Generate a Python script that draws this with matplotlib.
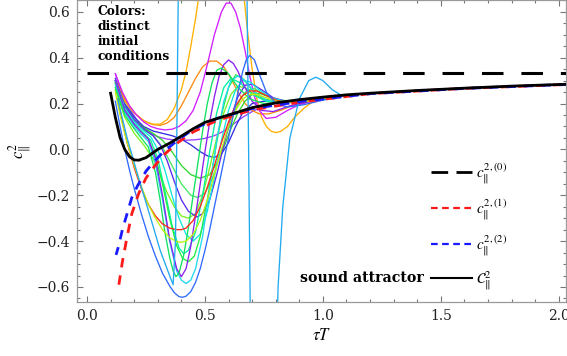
import numpy as np
import matplotlib
matplotlib.use("Agg")
import matplotlib.pyplot as plt
from matplotlib.lines import Line2D

plt.rcParams['mathtext.fontset'] = 'stix'
plt.rcParams['font.family'] = ['DejaVu Serif']

# ---------------- data ----------------
# sound attractor
att_x = [0.10, 0.12, 0.14, 0.16, 0.18, 0.20, 0.22, 0.25, 0.30, 0.35, 0.40, 0.45, 0.50,
         0.60, 0.70, 0.80, 0.90, 1.00, 1.10, 1.20, 1.40, 1.60, 1.80, 2.00, 2.03]
att_y = [0.245, 0.14, 0.052, 0.0, -0.032, -0.046, -0.047, -0.036, 0.0, 0.027, 0.058, 0.09, 0.118,
         0.15, 0.182, 0.203, 0.217, 0.228, 0.238, 0.245, 0.257, 0.267, 0.276, 0.283, 0.284]

# zeroth order (conformal value)
c0_x = [0.0, 2.03]
c0_y = [1/3, 1/3]

# first order hydro
c1_x = [0.135, 0.15, 0.17, 0.19, 0.22, 0.25, 0.29, 0.33, 0.38, 0.45, 0.55, 0.70, 0.90, 1.20, 1.60, 2.03]
c1_y = [-0.59, -0.49, -0.38, -0.28, -0.19, -0.125, -0.068, -0.02, 0.026, 0.076, 0.126, 0.172, 0.206, 0.243, 0.266, 0.283]

# second order hydro
c2_x = [0.123, 0.133, 0.15, 0.168, 0.19, 0.215, 0.25, 0.28, 0.32, 0.38, 0.45, 0.55, 0.70, 0.90, 1.20, 1.60, 2.03]
c2_y = [-0.46, -0.425, -0.35, -0.287, -0.21, -0.157, -0.095, -0.058, -0.015, 0.037, 0.088, 0.135, 0.178, 0.208, 0.243, 0.266, 0.283]

# individual solutions (distinct initial conditions)
sol_red_x = [0.13, 0.15, 0.17, 0.20, 0.23, 0.26, 0.29, 0.32, 0.35, 0.38, 0.40, 0.42, 0.45, 0.48, 0.51, 0.54,
             0.57, 0.60, 0.63, 0.66, 0.69, 0.72, 0.76, 0.80, 0.85, 0.92, 1.00, 1.10]
sol_red_y = [0.22, 0.12, 0.03, -0.08, -0.17, -0.24, -0.29, -0.325, -0.343, -0.35, -0.35, -0.343, -0.31, -0.25,
             -0.165, -0.07, 0.03, 0.12, 0.19, 0.235, 0.255, 0.255, 0.235, 0.215, 0.205, 0.207, 0.222, 0.235]

sol_yg_x = [0.12, 0.14, 0.17, 0.20, 0.23, 0.26, 0.29, 0.32, 0.35, 0.38, 0.40, 0.42, 0.45, 0.48, 0.51, 0.54,
            0.57, 0.60, 0.63, 0.66, 0.69, 0.72, 0.76, 0.80, 0.86, 0.95, 1.05, 1.15]
sol_yg_y = [0.25, 0.15, 0.03, -0.07, -0.16, -0.24, -0.30, -0.35, -0.385, -0.402, -0.405, -0.40, -0.37, -0.31,
            -0.22, -0.11, 0.0, 0.10, 0.17, 0.22, 0.24, 0.24, 0.225, 0.21, 0.205, 0.21, 0.228, 0.24]

sol_blue_x = [0.12, 0.14, 0.16, 0.18, 0.20, 0.23, 0.26, 0.29, 0.32, 0.35, 0.37, 0.39, 0.405, 0.42, 0.44, 0.46,
              0.48, 0.50, 0.52, 0.54, 0.56, 0.58, 0.60, 0.62, 0.64, 0.66, 0.675, 0.69, 0.71, 0.73, 0.76,
              0.80, 0.85, 0.92, 1.00, 1.10]
sol_blue_y = [0.21, 0.10, 0.0, -0.09, -0.17, -0.28, -0.38, -0.465, -0.54, -0.595, -0.625, -0.642, -0.645, -0.64,
              -0.62, -0.58, -0.52, -0.44, -0.35, -0.25, -0.15, -0.05, 0.05, 0.15, 0.25, 0.34, 0.39, 0.41, 0.39,
              0.33, 0.25, 0.20, 0.185, 0.195, 0.215, 0.235]

sol_gold_x = [0.13, 0.16, 0.19, 0.22, 0.25, 0.28, 0.31, 0.34, 0.37, 0.40, 0.42, 0.44, 0.46, 0.48, 0.50, 0.55,
              0.60, 0.64, 0.66, 0.68, 0.70, 0.72, 0.74, 0.76, 0.78, 0.80, 0.82, 0.85, 0.88, 0.92, 0.96, 1.03]
sol_gold_y = [0.27, 0.21, 0.17, 0.14, 0.12, 0.11, 0.11, 0.13, 0.18, 0.26, 0.34, 0.45, 0.57, 0.71, 0.90, 1.20,
              1.20, 0.90, 0.72, 0.52, 0.35, 0.22, 0.14, 0.10, 0.08, 0.073, 0.078, 0.10, 0.14, 0.18, 0.21, 0.225]

sol_orange_x = [0.13, 0.16, 0.20, 0.24, 0.28, 0.31, 0.34, 0.37, 0.40, 0.43, 0.46, 0.49, 0.52, 0.55, 0.58,
                0.61, 0.64, 0.67, 0.70, 0.73, 0.77, 0.82, 0.88, 0.95, 1.05]
sol_orange_y = [0.29, 0.22, 0.16, 0.125, 0.108, 0.105, 0.115, 0.14, 0.19, 0.25, 0.31, 0.36, 0.385, 0.385, 0.36,
                0.31, 0.25, 0.20, 0.17, 0.155, 0.155, 0.17, 0.195, 0.212, 0.228]

sol_magenta_x = [0.12, 0.15, 0.18, 0.21, 0.24, 0.27, 0.30, 0.33, 0.36, 0.39, 0.42, 0.45, 0.48, 0.51, 0.54,
                 0.57, 0.59, 0.61, 0.63, 0.65, 0.67, 0.69, 0.71, 0.73, 0.76, 0.80, 0.85, 0.90, 0.97, 1.05]
sol_magenta_y = [0.33, 0.25, 0.19, 0.15, 0.12, 0.10, 0.09, 0.085, 0.088, 0.10, 0.125, 0.17, 0.25, 0.37, 0.50,
                 0.60, 0.638, 0.638, 0.60, 0.53, 0.43, 0.32, 0.23, 0.17, 0.135, 0.14, 0.17, 0.195, 0.215, 0.228]

sol_dblue_x = [0.12, 0.16, 0.20, 0.24, 0.28, 0.32, 0.36, 0.40, 0.44, 0.48, 0.51, 0.54, 0.57, 0.60, 0.63,
               0.66, 0.70, 0.75, 0.82, 0.90, 1.00, 1.08]
sol_dblue_y = [0.30, 0.20, 0.14, 0.10, 0.08, 0.07, 0.06, 0.045, 0.02, -0.01, -0.028, -0.035, -0.02, 0.03, 0.10,
               0.16, 0.20, 0.21, 0.207, 0.21, 0.225, 0.235]

sol_violet_x = [0.12, 0.15, 0.18, 0.21, 0.24, 0.27, 0.30, 0.34, 0.38, 0.42, 0.46, 0.50, 0.54, 0.58, 0.62,
                0.66, 0.70, 0.75, 0.80, 0.88, 0.96, 1.05]
sol_violet_y = [0.33, 0.24, 0.18, 0.13, 0.095, 0.07, 0.055, 0.045, 0.04, 0.04, 0.042, 0.048, 0.06, 0.08, 0.11,
                0.14, 0.165, 0.19, 0.20, 0.205, 0.215, 0.228]

sol_green1_x = [0.12, 0.16, 0.20, 0.24, 0.28, 0.32, 0.36, 0.40, 0.44, 0.48, 0.52, 0.55, 0.58, 0.61, 0.64,
                0.67, 0.70, 0.73, 0.77, 0.82, 0.90, 1.00]
sol_green1_y = [0.30, 0.19, 0.13, 0.095, 0.07, 0.04, -0.01, -0.07, -0.11, -0.126, -0.11, -0.06, 0.01, 0.09, 0.16,
                0.21, 0.24, 0.245, 0.23, 0.215, 0.207, 0.222]

sol_green2_x = [0.12, 0.16, 0.20, 0.24, 0.28, 0.32, 0.36, 0.40, 0.44, 0.47, 0.50, 0.53, 0.56, 0.59, 0.62,
                0.65, 0.68, 0.71, 0.75, 0.80, 0.88, 0.98]
sol_green2_y = [0.29, 0.18, 0.12, 0.085, 0.06, 0.01, -0.07, -0.15, -0.20, -0.21, -0.19, -0.13, -0.04, 0.06, 0.15,
                0.22, 0.26, 0.265, 0.24, 0.215, 0.205, 0.22]

sol_indigo_x = [0.12, 0.16, 0.20, 0.24, 0.28, 0.31, 0.34, 0.37, 0.40, 0.43, 0.466, 0.49, 0.52, 0.55, 0.58,
                0.61, 0.64, 0.67, 0.70, 0.74, 0.79, 0.86, 0.95, 1.03]
sol_indigo_y = [0.31, 0.19, 0.13, 0.09, 0.06, 0.02, -0.05, -0.14, -0.22, -0.27, -0.295, -0.28, -0.22, -0.11, 0.02,
                0.14, 0.23, 0.28, 0.285, 0.26, 0.225, 0.205, 0.212, 0.225]

sol_cyan1_x = [0.12, 0.16, 0.20, 0.24, 0.27, 0.30, 0.33, 0.36, 0.39, 0.42, 0.45, 0.48, 0.51, 0.54, 0.57,
               0.60, 0.63, 0.66, 0.69, 0.73, 0.78, 0.85, 0.95, 1.03]
sol_cyan1_y = [0.30, 0.18, 0.12, 0.08, 0.055, 0.0, -0.09, -0.20, -0.30, -0.37, -0.40, -0.37, -0.27, -0.12, 0.04,
               0.17, 0.26, 0.30, 0.295, 0.26, 0.225, 0.207, 0.212, 0.225]

sol_green3_x = [0.12, 0.16, 0.20, 0.23, 0.26, 0.29, 0.32, 0.35, 0.38, 0.405, 0.43, 0.455, 0.48, 0.51, 0.54,
                0.57, 0.60, 0.63, 0.66, 0.70, 0.75, 0.82, 0.92, 1.00]
sol_green3_y = [0.29, 0.17, 0.11, 0.075, 0.045, -0.03, -0.15, -0.30, -0.42, -0.475, -0.49, -0.465, -0.38, -0.22,
                -0.03, 0.15, 0.27, 0.325, 0.31, 0.26, 0.22, 0.207, 0.21, 0.222]

sol_cyan2_x = [0.12, 0.16, 0.20, 0.23, 0.26, 0.29, 0.32, 0.35, 0.38, 0.40, 0.42, 0.44, 0.46, 0.49, 0.52,
               0.55, 0.58, 0.61, 0.64, 0.67, 0.71, 0.76, 0.83, 0.92, 1.00]
sol_cyan2_y = [0.28, 0.16, 0.10, 0.065, 0.035, -0.06, -0.22, -0.40, -0.53, -0.57, -0.585, -0.57, -0.52, -0.38,
               -0.17, 0.04, 0.21, 0.30, 0.32, 0.30, 0.25, 0.215, 0.205, 0.21, 0.222]

sol_purple_x = [0.12, 0.16, 0.20, 0.23, 0.26, 0.29, 0.32, 0.35, 0.38, 0.40, 0.42, 0.44, 0.46, 0.48, 0.50,
                0.52, 0.54, 0.56, 0.58, 0.60, 0.62, 0.64, 0.67, 0.70, 0.74, 0.79, 0.86, 0.95, 1.02]
sol_purple_y = [0.30, 0.17, 0.11, 0.075, 0.045, -0.04, -0.20, -0.39, -0.52, -0.555, -0.52, -0.42, -0.29, -0.15,
                -0.01, 0.12, 0.23, 0.32, 0.37, 0.39, 0.375, 0.34, 0.27, 0.21, 0.17, 0.165, 0.19, 0.21, 0.222]

sol_green4_x = [0.12, 0.16, 0.20, 0.23, 0.26, 0.29, 0.31, 0.33, 0.35, 0.365, 0.377, 0.39, 0.41, 0.43, 0.45,
                0.47, 0.49, 0.51, 0.53, 0.55, 0.57, 0.60, 0.64, 0.69, 0.75, 0.83, 0.92, 1.00]
sol_green4_y = [0.27, 0.15, 0.09, 0.05, 0.01, -0.10, -0.22, -0.36, -0.47, -0.53, -0.555, -0.54, -0.46, -0.34,
                -0.20, -0.06, 0.08, 0.20, 0.29, 0.345, 0.355, 0.33, 0.27, 0.22, 0.20, 0.205, 0.21, 0.222]

sol_lime_x = [0.12, 0.16, 0.20, 0.24, 0.28, 0.31, 0.34, 0.37, 0.40, 0.43, 0.46, 0.49, 0.52, 0.55, 0.58,
              0.61, 0.64, 0.67, 0.71, 0.76, 0.83, 0.92, 1.00]
sol_lime_y = [0.26, 0.14, 0.07, 0.02, -0.04, -0.11, -0.19, -0.25, -0.29, -0.30, -0.28, -0.20, -0.08, 0.05, 0.16,
              0.24, 0.275, 0.27, 0.24, 0.215, 0.205, 0.21, 0.222]

sol_spring_x = [0.12, 0.16, 0.20, 0.24, 0.27, 0.30, 0.33, 0.36, 0.39, 0.41, 0.43, 0.46, 0.49, 0.52, 0.55,
                0.58, 0.61, 0.65, 0.70, 0.76, 0.84, 0.93, 1.00]
sol_spring_y = [0.29, 0.17, 0.11, 0.07, 0.04, -0.04, -0.18, -0.33, -0.43, -0.455, -0.44, -0.36, -0.20, -0.01,
                0.16, 0.27, 0.31, 0.29, 0.24, 0.21, 0.205, 0.21, 0.222]

sol_sky_x = [0.13, 0.17, 0.22, 0.27, 0.31, 0.35, 0.365, 0.375, 0.38, 0.385, 0.39, 0.40,
             0.67, 0.675, 0.68, 0.685, 0.69, 0.695, 0.70,
             0.79, 0.80, 0.81, 0.83, 0.86, 0.90, 0.94, 0.97, 1.00, 1.04, 1.08, 1.12, 1.20]
sol_sky_y = [0.22, 0.05, -0.13, -0.30, -0.44, -0.55, -0.59, -0.40, 0.0, 0.50, 1.00, 2.00,
             2.00, 1.00, 0.50, 0.0, -0.50, -1.00, -2.00,
             -2.00, -1.00, -0.60, -0.25, 0.05, 0.22, 0.30, 0.315, 0.30, 0.26, 0.235, 0.238, 0.245]

solutions = [
    (sol_violet_x, sol_violet_y, '#9A40FF'),
    (sol_dblue_x, sol_dblue_y, '#3030E0'),
    (sol_orange_x, sol_orange_y, '#FF8A10'),
    (sol_gold_x, sol_gold_y, '#FFB000'),
    (sol_magenta_x, sol_magenta_y, '#D21EFF'),
    (sol_green1_x, sol_green1_y, '#30D830'),
    (sol_lime_x, sol_lime_y, '#7CF020'),
    (sol_green2_x, sol_green2_y, '#44E860'),
    (sol_indigo_x, sol_indigo_y, '#5A2AF0'),
    (sol_cyan1_x, sol_cyan1_y, '#10E8E0'),
    (sol_spring_x, sol_spring_y, '#00F0A0'),
    (sol_green3_x, sol_green3_y, '#20F040'),
    (sol_cyan2_x, sol_cyan2_y, '#20D8F0'),
    (sol_purple_x, sol_purple_y, '#8A20F0'),
    (sol_green4_x, sol_green4_y, '#10E060'),
    (sol_red_x, sol_red_y, '#FF2A1A'),
    (sol_yg_x, sol_yg_y, '#C0EE10'),
    (sol_blue_x, sol_blue_y, '#2F6BFF'),
    (sol_sky_x, sol_sky_y, '#22AAF0'),
]

# ---------------- figure ----------------
fig = plt.figure(figsize=(5.67, 3.56), dpi=100)
ax = fig.add_axes([0.136, 0.152, 0.862, 0.847])

for xs, ys, col in solutions:
    ax.plot(xs, ys, color=col, lw=0.95, zorder=2, solid_joinstyle='round')

ax.plot(c0_x, c0_y, color='black', lw=2.2, linestyle=(0, (7.05, 5.86)), zorder=3)
ax.plot(c1_x, c1_y, color='#FF1A1A', lw=2.0, linestyle=(0, (3.4, 2.9)), zorder=4)
ax.plot(c2_x, c2_y, color='#1A1AFF', lw=2.0, linestyle=(0.5, (3.4, 2.9)), zorder=4)
ax.plot(att_x, att_y, color='black', lw=2.0, zorder=5)

ax.set_xlim(-0.042, 2.03)
ax.set_ylim(-0.665, 0.648)

ax.set_xticks([0.0, 0.5, 1.0, 1.5, 2.0])
ax.set_xticks(np.arange(0.0, 2.05, 0.1), minor=True)
ax.set_yticks([-0.6, -0.4, -0.2, 0.0, 0.2, 0.4, 0.6])
ax.set_yticks(np.arange(-0.65, 0.66, 0.05), minor=True)
ax.set_xticklabels(['0.0', '0.5', '1.0', '1.5', '2.0'])
ax.set_yticklabels(['\u22120.6', '\u22120.4', '\u22120.2', '0.0', '0.2', '0.4', '0.6'])
ax.tick_params(which='both', direction='in', top=True, right=True, colors='#777777',
               labelcolor='#222222', labelsize=10, width=0.8)
ax.tick_params(which='major', length=4.5, pad=5)
ax.tick_params(which='minor', length=2.5)
for s in ax.spines.values():
    s.set_color('#999999')
    s.set_linewidth(0.9)

ax.set_xlabel(r'$\tau T$', fontsize=12, labelpad=3)
ax.set_ylabel(r'$c_{\Vert}^{2}$', fontsize=12, labelpad=2)

ax.text(0.041, 0.985, 'Colors:\ndistinct\ninitial\nconditions', transform=ax.transAxes,
        ha='left', va='top', fontsize=8.8, fontweight='bold', linespacing=1.22, zorder=6)

handles = [
    Line2D([], [], color='black', lw=2.0, linestyle=(0, (6.0, 3.0))),
    Line2D([], [], color='#FF1A1A', lw=1.6, linestyle=(0, (3.0, 2.0))),
    Line2D([], [], color='#1A1AFF', lw=1.6, linestyle=(0, (3.0, 2.0))),
    Line2D([], [], color='black', lw=1.5),
]
labels = [r'$c_{\Vert}^{2,(0)}$', r'$c_{\Vert}^{2,(1)}$', r'$c_{\Vert}^{2,(2)}$', r'$\mathcal{C}_{\Vert}^{2}$']
ax.legend(handles, labels, loc='lower left', bbox_to_anchor=(0.724, 0.034), frameon=False,
          borderpad=0, borderaxespad=0, handlelength=2.7, handletextpad=0.25,
          labelspacing=0.72, fontsize=11)

ax.text(0.71, 0.079, 'sound attractor', transform=ax.transAxes, ha='right', va='center',
        fontsize=10.2, fontweight='bold', zorder=6)

fig.savefig('out.png', dpi=100)
